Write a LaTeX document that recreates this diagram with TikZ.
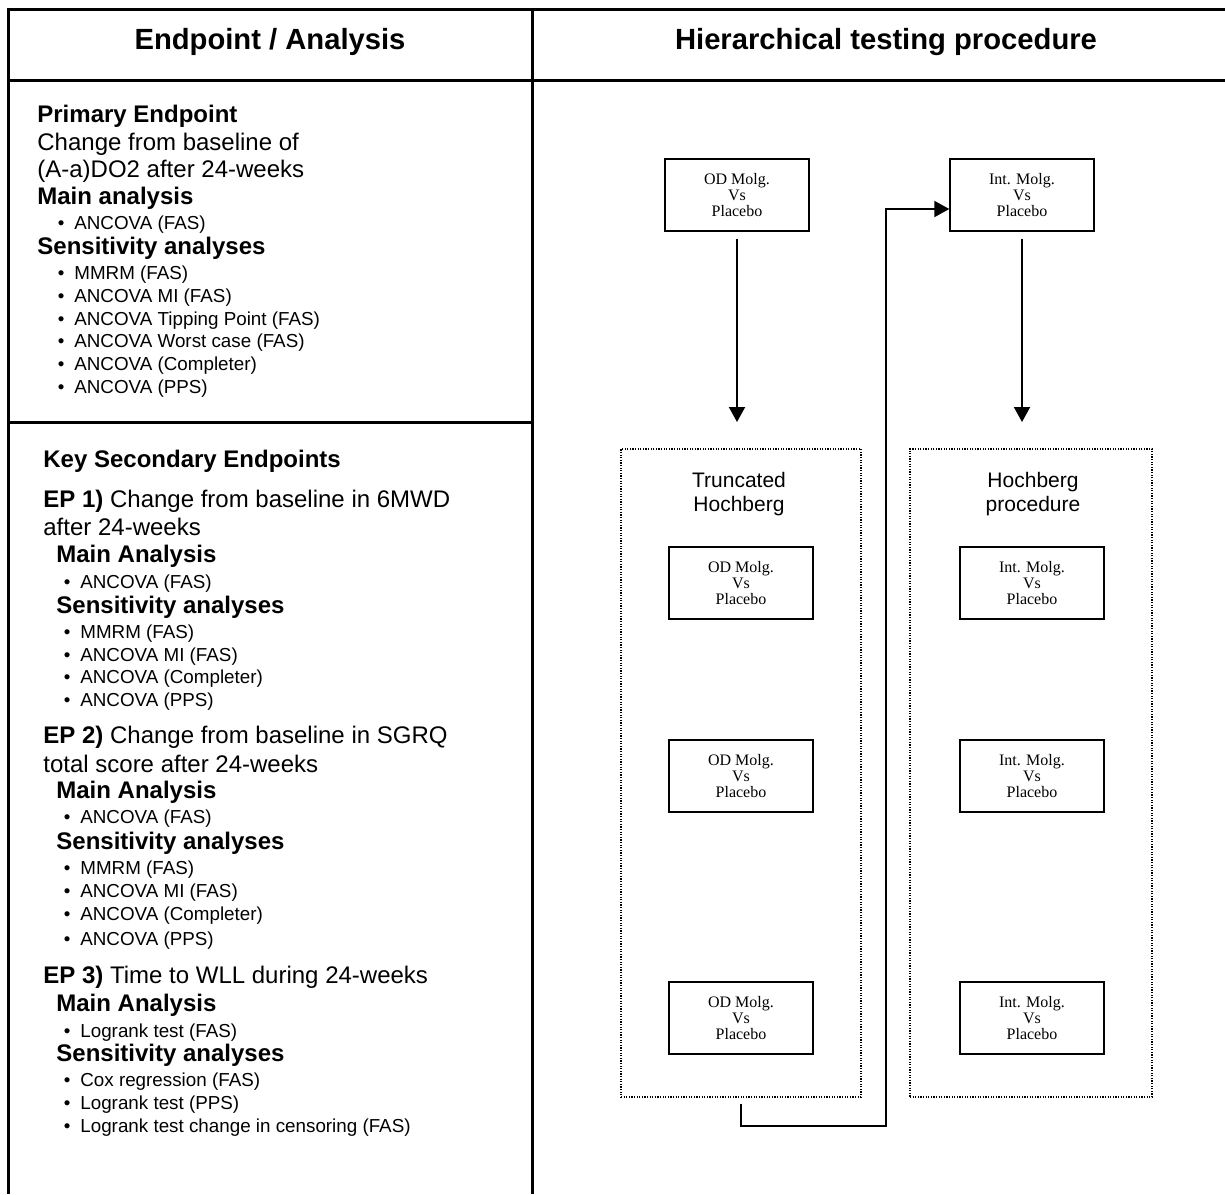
\documentclass[tikz,border=0pt]{standalone}
\usepackage{fontspec}
\setmainfont{Liberation Sans}
\newfontfamily\boxfont{Liberation Serif}
\usetikzlibrary{arrows.meta}

\newcommand{\bul}{\llap{\textbullet\hspace{5pt}}}

\begin{document}
\begin{tikzpicture}
    [x=0.5pt, y=-0.5pt, >={Triangle[length=7.5pt, width=8pt]},
     frame/.style={line width=1.5pt},
     arr/.style={->, line width=1pt},
     cmp/.style={rectangle, draw, line width=0.7pt, minimum width=72pt, minimum height=36pt, align=center, font=\boxfont\fontsize{8}{7.8}\selectfont},
     grp/.style={rectangle, draw, dash pattern=on 0.6pt off 0.7pt, line width=0.9pt, minimum width=120pt, minimum height=324pt},
     grplbl/.style={align=center, inner sep=0pt, font=\fontsize{10.5}{12}\selectfont},
     colhd/.style={anchor=base, inner sep=0pt, font=\bfseries\fontsize{14.6}{16}\selectfont},
     txt/.style={anchor=base west, inner sep=0pt, font=\fontsize{12}{14}\selectfont},
     hd/.style={txt, font=\bfseries\fontsize{12}{14}\selectfont},
     itm/.style={anchor=base west, inner sep=0pt, font=\fontsize{9.4}{11}\selectfont}]
    \useasboundingbox (0,0) rectangle (1225,1194);
    % table frame
    \draw[frame] (1225,9) -- (8,9) -- (8,1194);
    \draw[frame] (8,80) -- (1225,80);
    \draw[frame] (532,9) -- (532,1194);
    \draw[frame] (8,422) -- (532,422);
    \node[colhd] (hdl) at (270,49) {Endpoint / Analysis};
    \node[colhd] (hdr) at (886,49) {Hierarchical testing procedure};

    % primary endpoint
    \node[hd] (pe) at (37,122) {Primary Endpoint};
    \node[txt] (pe1) at (37,150) {Change from baseline of};
    \node[txt] (pe2) at (37,177) {(A-a)DO2 after 24-weeks};
    \node[hd] (pma) at (37,204) {Main analysis};
    \node[itm] (pm1) at (74,229) {\bul ANCOVA (FAS)};
    \node[hd] (psa) at (37,254) {Sensitivity analyses};
    \node[itm] (ps1) at (74,279) {\bul MMRM (FAS)};
    \node[itm] (ps2) at (74,302) {\bul ANCOVA MI (FAS)};
    \node[itm] (ps3) at (74,325) {\bul ANCOVA Tipping Point (FAS)};
    \node[itm] (ps4) at (74,347) {\bul ANCOVA Worst case (FAS)};
    \node[itm] (ps5) at (74,370) {\bul ANCOVA (Completer)};
    \node[itm] (ps6) at (74,393) {\bul ANCOVA (PPS)};

    % key secondary endpoints
    \node[hd] (ks) at (43,467) {Key Secondary Endpoints};
    \node[txt] (ep1) at (43,507) {\textbf{EP 1)} Change from baseline in 6MWD};
    \node[txt] (ep1b) at (43,535) {after 24-weeks};
    \node[hd] (ma1) at (56,562) {Main Analysis};
    \node[itm] (m1a) at (80,588) {\bul ANCOVA (FAS)};
    \node[hd] (sa1) at (56,613) {Sensitivity analyses};
    \node[itm] (s1a) at (80,638) {\bul MMRM (FAS)};
    \node[itm] (s1b) at (80,661) {\bul ANCOVA MI (FAS)};
    \node[itm] (s1c) at (80,683) {\bul ANCOVA (Completer)};
    \node[itm] (s1d) at (80,706) {\bul ANCOVA (PPS)};
    \node[txt] (ep2) at (43,743) {\textbf{EP 2)} Change from baseline in SGRQ};
    \node[txt] (ep2b) at (43,772) {total score after 24-weeks};
    \node[hd] (ma2) at (56,798) {Main Analysis};
    \node[itm] (m2a) at (80,823) {\bul ANCOVA (FAS)};
    \node[hd] (sa2) at (56,849) {Sensitivity analyses};
    \node[itm] (s2a) at (80,874) {\bul MMRM (FAS)};
    \node[itm] (s2b) at (80,897) {\bul ANCOVA MI (FAS)};
    \node[itm] (s2c) at (80,920) {\bul ANCOVA (Completer)};
    \node[itm] (s2d) at (80,945) {\bul ANCOVA (PPS)};
    \node[txt] (ep3) at (43,983) {\textbf{EP 3)} Time to WLL during 24-weeks};
    \node[hd] (ma3) at (56,1011) {Main Analysis};
    \node[itm] (m3a) at (80,1037) {\bul Logrank test (FAS)};
    \node[hd] (sa3) at (56,1061) {Sensitivity analyses};
    \node[itm] (s3a) at (80,1086) {\bul Cox regression (FAS)};
    \node[itm] (s3b) at (80,1109) {\bul Logrank test (PPS)};
    \node[itm] (s3c) at (80,1132) {\bul Logrank test change in censoring (FAS)};

    % testing procedure
    \node[cmp] (odA) at (737,195) {OD Molg.\\Vs\\Placebo};
    \node[cmp] (intA) at (1022,195) {Int. Molg.\\Vs\\Placebo};
    \node[grp] (trunc) at (741,773) {};
    \node[grp, minimum width=121pt] (hoch) at (1031,773) {};
    \node[grplbl] (truncLbl) at (739,494) {Truncated\\Hochberg};
    \node[grplbl] (hochLbl) at (1033,494) {Hochberg\\procedure};
    \node[cmp] (odB) at (741,583) {OD Molg.\\Vs\\Placebo};
    \node[cmp] (odC) at (741,776) {OD Molg.\\Vs\\Placebo};
    \node[cmp] (odD) at (741,1018) {OD Molg.\\Vs\\Placebo};
    \node[cmp] (intB) at (1032,583) {Int. Molg.\\Vs\\Placebo};
    \node[cmp] (intC) at (1032,776) {Int. Molg.\\Vs\\Placebo};
    \node[cmp] (intD) at (1032,1018) {Int. Molg.\\Vs\\Placebo};
    \coordinate (odTip) at (737,422);
    \coordinate (intTip) at (1022,422);
    \coordinate (lnk) at (886,1126);
    \draw[arr, shorten <=3.5pt] (odA) -- (odTip);
    \draw[arr, shorten <=3.5pt] (intA) -- (intTip);
    \draw[arr, shorten <=3pt] (trunc.south) |- (lnk) |- ([yshift=-7pt]intA.west);
\end{tikzpicture}
\end{document}
